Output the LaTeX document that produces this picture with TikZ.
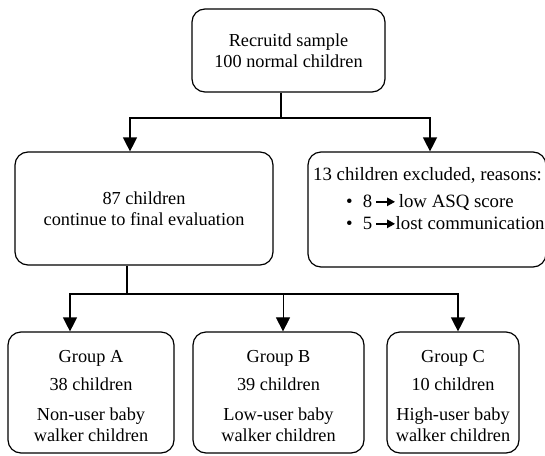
\documentclass[tikz,border=0pt]{standalone}
\usepackage{fontspec}
\setmainfont{Liberation Serif}
\usetikzlibrary{arrows.meta}
\newcommand{\smallarr}{\tikz[baseline=-0.6ex]\draw[line width=1.4pt,-{Triangle[length=8pt,width=8.5pt]}] (0pt,0pt) -- (19pt,0pt);}
\begin{document}
\begin{tikzpicture}[x=1pt,y=1pt,
  box/.style={draw, line width=1.2pt, rounded corners=13pt, inner sep=0pt},
  txt/.style={align=center, inner sep=0pt, font=\fontsize{18.3}{20.5}\selectfont},
  txtb/.style={inner sep=0pt, font=\fontsize{18.8}{21}\selectfont},
  conn/.style={line width=1.3pt},
  arr/.style={conn, -{Triangle[length=14pt,width=14pt]}}]
\useasboundingbox (0,0) rectangle (545,-455);
\fill[white] (0,0) rectangle (545,-455);
% boxes
\node (top) [box, txt, minimum width=193pt, minimum height=83pt] at (288.5,-50.5)
  {Recruitd sample\\100 normal children};
\node (cont) [box, txt, minimum width=258pt, minimum height=113pt] at (144,-208.5)
  {87 children\\continue to final evaluation};
\node (exc) [box, minimum width=238pt, minimum height=115pt] at (427,-209.5) {};
\node (exc1) [txtb, anchor=base west] at (313,-180) {13 children excluded, reasons:};
\node (exc2) [txtb, anchor=base west] at (346,-207) {\textbullet\hspace{10pt}8\,\smallarr\,low ASQ score};
\node (exc3) [txtb, anchor=base west] at (346,-229) {\textbullet\hspace{10pt}5\,\smallarr lost communication};
\node (ga) [box, minimum width=166pt, minimum height=121pt] at (91,-392.5) {};
\node (gb) [box, minimum width=171pt, minimum height=121pt] at (278.5,-392.5) {};
\node (gc) [box, minimum width=132pt, minimum height=121pt] at (453,-392.5) {};
\node (gat) [txt] at (91,-396) {Group A\\[7pt]38 children\\[10pt]Non-user baby\\walker children};
\node (gbt) [txt] at (278.5,-396) {Group B\\[7pt]39 children\\[10pt]Low-user baby\\walker children};
\node (gct) [txt] at (453,-396) {Group C\\[7pt]10 children\\[10pt]High-user baby\\walker children};
% connectors
\coordinate (j1) at (281,-118);
\coordinate (la) at (130,-118);
\coordinate (ra) at (430,-118);
\draw[conn] (top.south -| j1) -- (j1);
\draw[arr] (j1) -| (cont.north -| la);
\draw[arr] (j1) -| (exc.north -| ra);
\coordinate (j2) at (127,-294);
\coordinate (a1) at (70,-294);
\coordinate (b1) at (283,-294);
\coordinate (c1) at (458,-294);
\draw[conn] (cont.south -| j2) -- (j2);
\draw[arr] (j2) -| (ga.north -| a1);
\draw[arr] (j2) -| (gc.north -| c1);
\draw[line width=0.8pt, -{Triangle[length=14pt,width=14pt]}] (b1) -- (gb.north -| b1);
\end{tikzpicture}
\end{document}
